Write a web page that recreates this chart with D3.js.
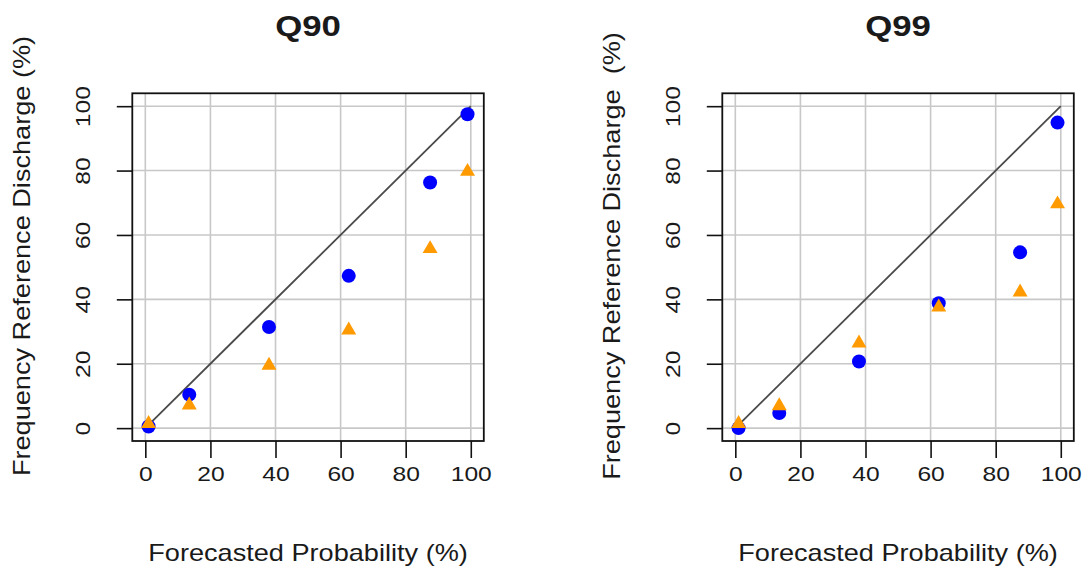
<!DOCTYPE html>
<html>
<head>
<meta charset="utf-8">
<script src="https://cdn.jsdelivr.net/npm/d3@7"></script>
<style>
  html, body { margin: 0; padding: 0; background: #fff; }
  svg { display: block; }
  text { font-family: "Liberation Sans", Arial, Helvetica, sans-serif; fill: #1a1a1a; white-space: pre; }
</style>
</head>
<body>
<svg id="chart" width="1084" height="571"></svg>
<script>
// Reliability diagrams: forecasted probability vs observed frequency
const panelTitles = ["Q90", "Q99"];
const yLabels = ["Frequency Reference Discharge (%)", "Frequency Reference Discharge  (%)"];
const xLabel = "Forecasted Probability (%)";
const xTicks = [0, 20, 40, 60, 80, 100];
const yTicks = [0, 20, 40, 60, 80, 100];

// probability bin centres
const forecastProb = [1, 13.5, 38, 62.5, 87.5, 99];

// observed frequencies, circle series
const q90Circle = [0.5, 10.4, 31.4, 47.3, 76.3, 97.5];
const q99Circle = [0, 4.7, 20.7, 38.8, 54.6, 94.9];
// observed frequencies, triangle series
const q90Tri = [1.4, 7.1, 19.5, 30.4, 55.7, 79.7];
const q99Tri = [1.4, 6.9, 26.4, 37.6, 42.2, 69.6];

const circleSeries = [q90Circle, q99Circle];
const triSeries = [q90Tri, q99Tri];

const svg = d3.select("#chart");
const stretch = 1.2;        // glyph width factor along the reading direction
const plotTop = 93.3, plotBottom = 441;
const panelLefts = [132.3, 722.3];
const panelWidth = 351.5;

const y = d3.scaleLinear().domain([-4, 104]).range([plotBottom, plotTop]);

panelLefts.forEach((left, p) => {
  const x = d3.scaleLinear().domain([-4, 104]).range([left, left + panelWidth]);
  const g = svg.append("g");
  const cx = left + panelWidth / 2;

  // grid
  g.append("g").selectAll("line").data(xTicks).join("line")
    .attr("x1", d => x(d)).attr("x2", d => x(d))
    .attr("y1", plotTop).attr("y2", plotBottom)
    .attr("stroke", "#c8c8c8").attr("stroke-width", 1.6);
  g.append("g").selectAll("line").data(yTicks).join("line")
    .attr("x1", left).attr("x2", left + panelWidth)
    .attr("y1", d => y(d)).attr("y2", d => y(d))
    .attr("stroke", "#c8c8c8").attr("stroke-width", 1.6);

  // 1:1 reference line
  g.append("line")
    .attr("x1", x(0)).attr("y1", y(0))
    .attr("x2", x(100)).attr("y2", y(100))
    .attr("stroke", "#4a4a4a").attr("stroke-width", 1.8);

  // circles
  g.append("g").selectAll("circle").data(forecastProb.map((f, i) => [f, circleSeries[p][i]])).join("circle")
    .attr("cx", d => x(d[0])).attr("cy", d => y(d[1]))
    .attr("r", 7).attr("fill", "#0000ff");

  // triangles
  const tri = d3.symbol().type(d3.symbolTriangle).size(97);
  g.append("g").selectAll("path").data(forecastProb.map((f, i) => [f, triSeries[p][i]])).join("path")
    .attr("d", tri)
    .attr("transform", d => `translate(${x(d[0])},${y(d[1])})`)
    .attr("fill", "#ff9a00");

  // box
  g.append("rect")
    .attr("x", left).attr("y", plotTop)
    .attr("width", panelWidth).attr("height", plotBottom - plotTop)
    .attr("fill", "none").attr("stroke", "#111").attr("stroke-width", 1.8);

  // x axis
  const xa = g.append("g").attr("transform", `translate(0,${plotBottom})`)
    .call(d3.axisBottom(x).tickValues(xTicks).tickSize(17).tickFormat(d3.format("d")));
  xa.select(".domain").remove();
  xa.selectAll(".tick line").attr("stroke", "#111").attr("stroke-width", 1.6);
  xa.selectAll(".tick text")
    .attr("y", null).attr("dy", null)
    .attr("transform", `translate(0,39.5) scale(${stretch},1)`)
    .attr("font-size", 20.5).attr("fill", "#1a1a1a")
    .attr("font-family", "Liberation Sans, Arial, sans-serif");

  // y axis
  const ya = g.append("g").attr("transform", `translate(${left},0)`)
    .call(d3.axisLeft(y).tickValues(yTicks).tickSize(15.5).tickFormat(d3.format("d")));
  ya.select(".domain").remove();
  ya.selectAll(".tick line").attr("stroke", "#111").attr("stroke-width", 1.6);
  ya.selectAll(".tick text")
    .attr("x", null).attr("dy", null)
    .attr("text-anchor", "middle")
    .attr("transform", `translate(-42.3,0) rotate(-90) scale(${stretch},1)`)
    .attr("font-size", 20.5).attr("fill", "#1a1a1a")
    .attr("font-family", "Liberation Sans, Arial, sans-serif");

  // title
  g.append("text")
    .attr("transform", `translate(${cx},36) scale(1.2,1)`)
    .attr("text-anchor", "middle")
    .attr("font-size", 29).attr("font-weight", "bold")
    .text(panelTitles[p]);

  // x label
  g.append("text")
    .attr("transform", `translate(${cx},561) scale(1.18,1)`)
    .attr("text-anchor", "middle")
    .attr("font-size", 23).attr("fill", "#222")
    .text(xLabel);

  // y label
  g.append("text")
    .attr("transform", `translate(${left - 102},256) rotate(-90) scale(1.18,1)`)
    .attr("text-anchor", "middle")
    .attr("font-size", 23).attr("fill", "#222")
    .text(yLabels[p]);
});
</script>
</body>
</html>
